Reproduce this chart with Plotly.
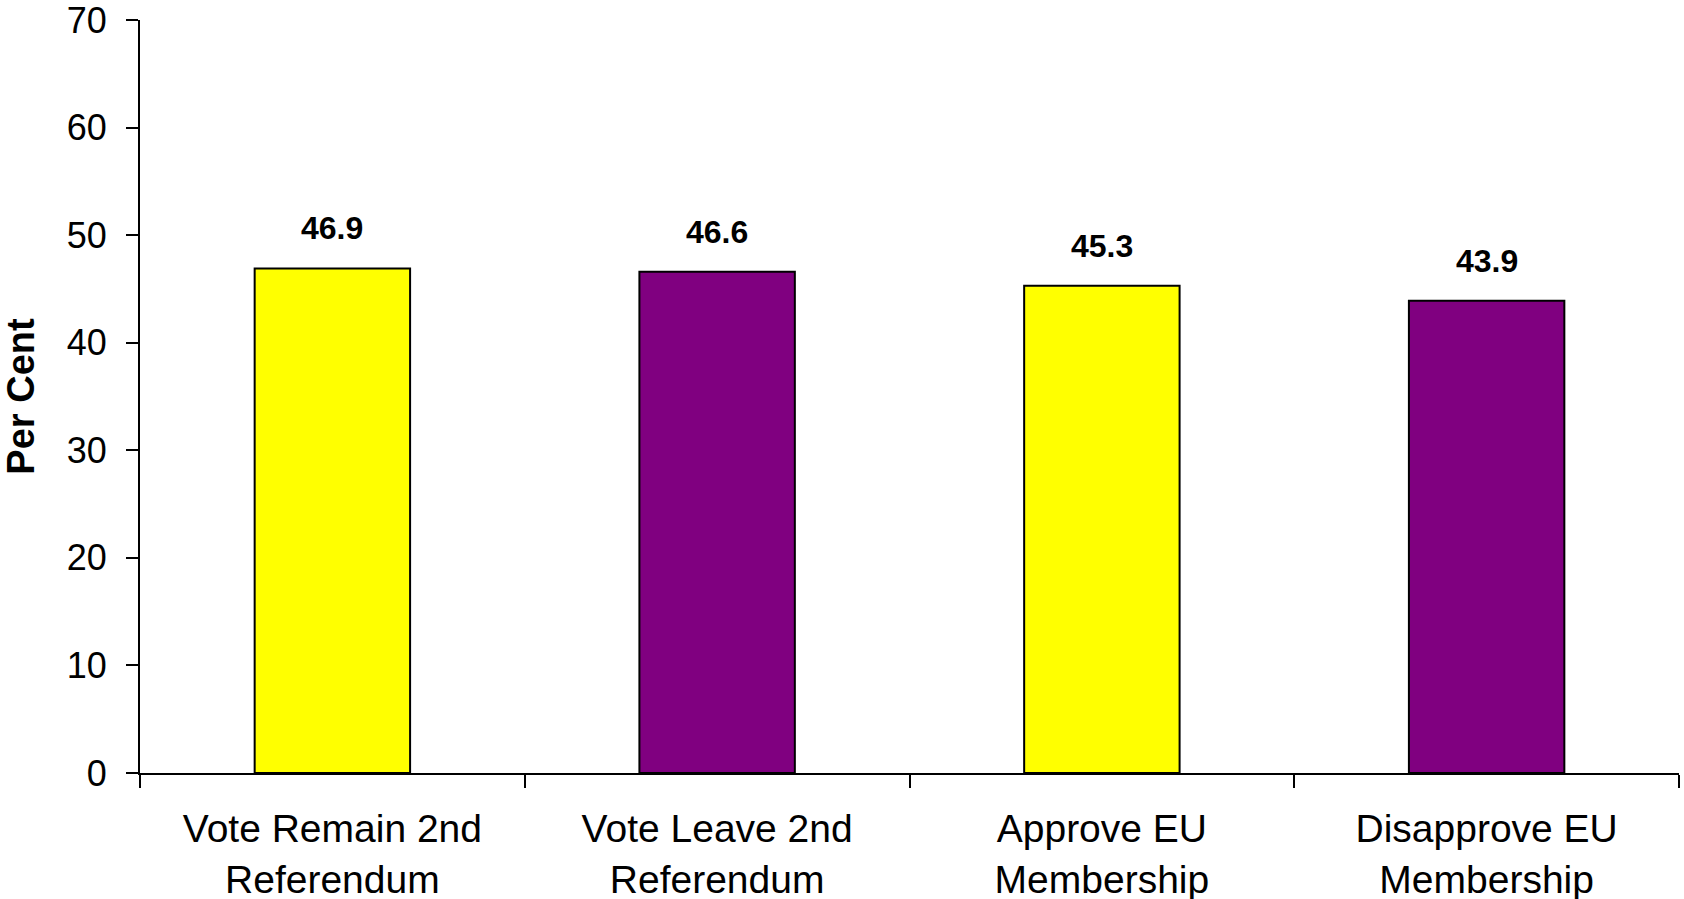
import plotly.graph_objects as go

categories = ["Vote Remain 2nd<br>Referendum", "Vote Leave 2nd<br>Referendum",
              "Approve EU<br>Membership", "Disapprove EU<br>Membership"]
values = [46.9, 46.6, 45.3, 43.9]
colors = ["#FFFF00", "#800080", "#FFFF00", "#800080"]
y_ticks = [0, 10, 20, 30, 40, 50, 60, 70]

FONT = "Arial, 'Liberation Sans', sans-serif"

fig = go.Figure()
fig.add_trace(go.Bar(
    x=categories, y=values,
    marker=dict(color=colors, line=dict(color="black", width=2)),
    hoverinfo="skip",
))

for c, v in zip(categories, values):
    fig.add_annotation(x=c, y=v, text=f"<b>{v:.1f}</b>", showarrow=False,
                       yanchor="middle", yshift=40,
                       font=dict(family=FONT, size=32, color="black"))

fig.update_layout(
    width=1684, height=899,
    margin=dict(l=140, r=5, t=20, b=126, autoexpand=False),
    paper_bgcolor="white", plot_bgcolor="white",
    bargap=0.596,
    showlegend=False,
    font=dict(family=FONT, color="black"),
)
fig.update_xaxes(
    automargin=False,
    showline=True, linecolor="black", linewidth=2,
    ticks="outside", tickson="boundaries", ticklen=13, tickwidth=2, tickcolor="black",
    tickfont=dict(family=FONT, size=39, color="black"),
    ticklabelstandoff=20,
    ticklabeloverflow="allow",
    showgrid=False, zeroline=False,
)
fig.update_yaxes(
    automargin=False,
    range=[0, 70], tickvals=y_ticks,
    showline=True, linecolor="black", linewidth=2,
    ticks="outside", ticklen=12, tickwidth=2, tickcolor="black",
    tickfont=dict(family=FONT, size=36, color="black"),
    ticklabelstandoff=12,
    ticklabeloverflow="allow",
    showgrid=False, zeroline=False,
    title=dict(text="<b>Per Cent</b>", font=dict(family=FONT, size=38, color="black"), standoff=22),
)

fig.write_html("out.html", config={"displayModeBar": False},
               post_script="document.body.style.margin='0';")
